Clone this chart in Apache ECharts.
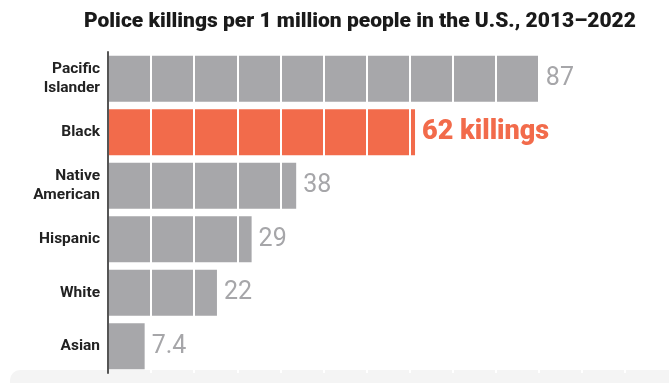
<!DOCTYPE html>
<html>
<head>
<meta charset="utf-8">
<script src="https://cdn.jsdelivr.net/npm/echarts@6/dist/echarts.min.js"></script>
<style>
  html, body { margin: 0; padding: 0; background: #fff; }
  #chart { width: 669px; height: 383px; }
</style>
</head>
<body>
<div id="chart"></div>
<script>
// data
const groups = ['Pacific\nIslander', 'Black', 'Native\nAmerican', 'Hispanic', 'White', 'Asian']
const rates = [87, 62, 38, 29, 22, 7.4]
const rateLabels = ['87', '62 killings', '38', '29', '22', '7.4']
const highlight = 'Black'

const GRAY = '#a7a7aa'
const ORANGE = '#f26b4b'

const chart = echarts.init(document.getElementById('chart'))

const option = {
  animation: false,
  title: {
    text: 'Police killings per 1 million people in the U.S., 2013–2022',
    left: 79,
    top: 6,
    textStyle: {
      fontFamily: 'Roboto',
      fontWeight: 900,
      fontSize: 21,
      color: '#1a1a1a',
    },
  },
  graphic: [
    {
      type: 'rect',
      left: 10,
      top: 370,
      shape: { width: 690, height: 20, r: [10, 0, 0, 0] },
      style: { fill: '#f4f4f4' },
      z: -1,
    },
  ],
  grid: { left: 108, right: 44, top: 52, height: 321 },
  xAxis: {
    type: 'value',
    min: 0,
    max: 104.4,
    interval: 8.7,
    z: 3,
    axisLine: { show: false },
    axisTick: { show: false },
    axisLabel: { show: false },
    // white dividers that cut the bars into blocks
    splitLine: { show: true, lineStyle: { color: '#ffffff', width: 2 } },
  },
  yAxis: {
    type: 'category',
    data: groups,
    inverse: true,
    z: 5,
    axisLine: { show: true, lineStyle: { color: '#555', width: 2 } },
    axisTick: { show: false },
    axisLabel: {
      margin: 8,
      fontFamily: 'Roboto',
      fontWeight: 'bold',
      fontSize: 15.5,
      lineHeight: 19,
      color: '#222',
      align: 'right',
    },
  },
  series: [
    {
      type: 'bar',
      barWidth: 46,
      z: 2,
      data: rates.map((v, i) => ({
        value: v,
        itemStyle: { color: groups[i] === highlight ? ORANGE : GRAY },
      })),
    },
    {
      // transparent copy on top of the dividers, only for the labels
      type: 'bar',
      barWidth: 46,
      barGap: '-100%',
      z: 6,
      silent: true,
      itemStyle: { color: 'rgba(0,0,0,0)' },
      data: rates.map((v, i) => ({
        value: v,
        label: {
          show: true,
          position: 'right',
          distance: 7,
          formatter: rateLabels[i],
          fontFamily: 'Roboto',
          fontSize: groups[i] === highlight ? 27 : 25,
          fontWeight: groups[i] === highlight ? 900 : 'normal',
          color: groups[i] === highlight ? ORANGE : '#a6a6a9',
        },
      })),
    },
  ],
}

chart.setOption(option)
</script>
</body>
</html>
